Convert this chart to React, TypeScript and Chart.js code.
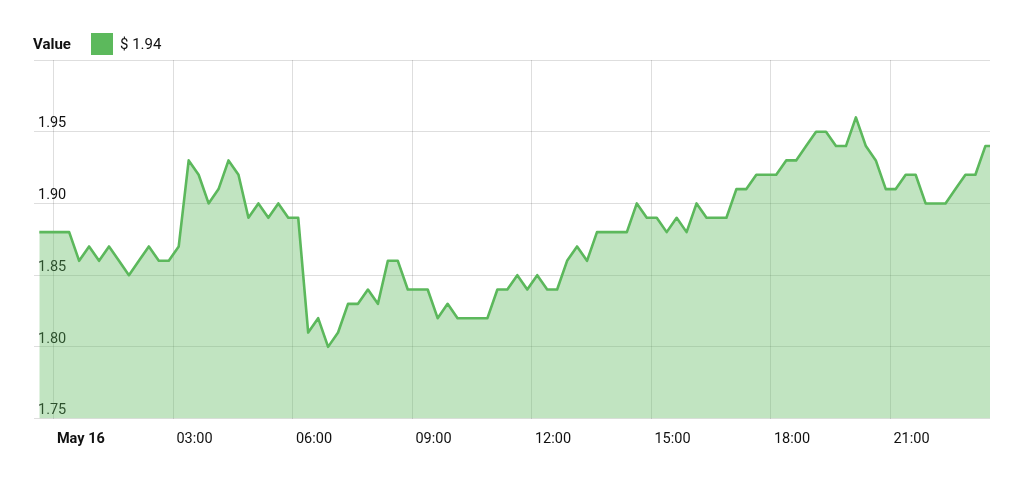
import React, { useEffect, useRef } from "react";
import { Chart, registerables } from "chart.js";

Chart.register(...registerables);

// Price values, one every 15 minutes (last point is the current partial interval)
const values: number[] = [
  1.88, 1.88, 1.88, 1.88, 1.86, 1.87, 1.86, 1.87, 1.86, 1.85,
  1.86, 1.87, 1.86, 1.86, 1.87, 1.93, 1.92, 1.90, 1.91, 1.93,
  1.92, 1.89, 1.90, 1.89, 1.90, 1.89, 1.89, 1.81, 1.82, 1.80,
  1.81, 1.83, 1.83, 1.84, 1.83, 1.86, 1.86, 1.84, 1.84, 1.84,
  1.82, 1.83, 1.82, 1.82, 1.82, 1.82, 1.84, 1.84, 1.85, 1.84,
  1.85, 1.84, 1.84, 1.86, 1.87, 1.86, 1.88, 1.88, 1.88, 1.88,
  1.90, 1.89, 1.89, 1.88, 1.89, 1.88, 1.90, 1.89, 1.89, 1.89,
  1.91, 1.91, 1.92, 1.92, 1.92, 1.93, 1.93, 1.94, 1.95, 1.95,
  1.94, 1.94, 1.96, 1.94, 1.93, 1.91, 1.91, 1.92, 1.92, 1.90,
  1.90, 1.90, 1.91, 1.92, 1.92, 1.94, 1.94,
];

// Time axis in minutes from May 16 00:00
const START_MINUTE = -22;
const STEP_MINUTES = 15;
const LAST_MINUTE = 1410;
const X_MIN = -30;
const X_MAX = 1410;

const xTickValues: number[] = [0, 180, 360, 540, 720, 900, 1080, 1260];
const xTickLabels: string[] = ["May 16", "03:00", "06:00", "09:00", "12:00", "15:00", "18:00", "21:00"];

const yTickValues: number[] = [1.75, 1.8, 1.85, 1.9, 1.95, 2.0];
const yTickLabels: string[] = ["1.75", "1.80", "1.85", "1.90", "1.95", ""];

const seriesName = "Value";
const LINE = "rgb(92,184,92)";
const FILL = "rgba(92,184,92,0.38)";
const FONT = "Roboto, 'Noto Sans', sans-serif";

export default function App() {
  const ref = useRef<HTMLCanvasElement | null>(null);

  useEffect(() => {
    if (!ref.current) return;
    const times = values.map((_, i) =>
      i === values.length - 1 ? LAST_MINUTE : START_MINUTE + i * STEP_MINUTES
    );
    const points = values.map((v, i) => ({ x: times[i], y: v }));

    const chart = new Chart(ref.current, {
      type: "line",
      data: {
        datasets: [
          {
            label: seriesName,
            data: points,
            borderColor: LINE,
            backgroundColor: FILL,
            borderWidth: 2.6,
            fill: "start",
            tension: 0,
            pointRadius: 0,
            borderJoinStyle: "round",
          },
        ],
      },
      options: {
        animation: false,
        responsive: false,
        maintainAspectRatio: false,
        layout: { padding: { left: 26, right: 34, top: 60, bottom: 20 } },
        plugins: { legend: { display: false }, tooltip: { enabled: false } },
        scales: {
          x: {
            type: "linear",
            min: X_MIN,
            max: X_MAX,
            afterBuildTicks: (scale: any) => {
              scale.ticks = xTickValues.map((v) => ({ value: v }));
            },
            border: { display: false },
            grid: { color: "rgba(0,0,0,0.13)", drawTicks: false, lineWidth: 1 },
            ticks: {
              autoSkip: false,
              maxRotation: 0,
              align: "start",
              labelOffset: 3,
              padding: 12,
              color: "#111",
              font: (ctx: any) => ({
                family: FONT,
                size: 14.5,
                weight: ctx.index === 0 ? "bold" : "normal",
              }),
              callback: (_v: any, i: number) => xTickLabels[i],
            },
          },
          y: {
            min: 1.75,
            max: 2.0,
            afterBuildTicks: (scale: any) => {
              scale.ticks = yTickValues.map((v) => ({ value: v }));
            },
            border: { display: false },
            grid: { color: "rgba(0,0,0,0.13)", drawTicks: false, lineWidth: 1 },
            ticks: {
              mirror: true,
              padding: 4,
              labelOffset: -8,
              color: "#111",
              font: { family: FONT, size: 14.5 },
              callback: (_v: any, i: number) => yTickLabels[i],
            },
          },
        },
      },
    });
    return () => chart.destroy();
  }, []);

  const lastValue = values[values.length - 1];

  return (
    <div style={{ position: "fixed", left: 0, top: 0, width: 1024, height: 480, background: "#fff", fontFamily: FONT }}>
      <canvas ref={ref} width={1024} height={480} style={{ position: "absolute", left: 0, top: 0, width: 1024, height: 480 }} />
      <div style={{ position: "absolute", left: 33, top: 33, height: 22, display: "flex", alignItems: "center", fontSize: 15, color: "#111" }}>
        <span style={{ fontWeight: "bold", width: 58 }}>{seriesName}</span>
        <span style={{ display: "inline-block", width: 22, height: 22, background: "rgb(92,185,92)", marginRight: 7 }} />
        <span>$ {lastValue.toFixed(2)}</span>
      </div>
    </div>
  );
}
